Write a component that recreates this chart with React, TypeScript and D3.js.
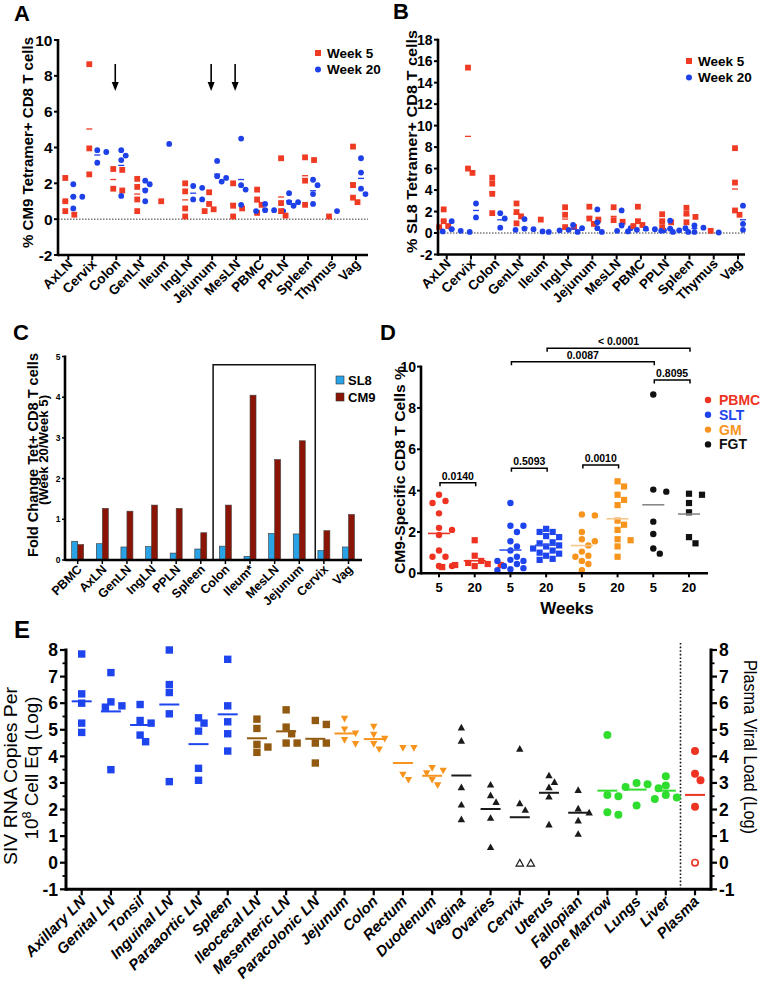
import React from 'react';
import * as d3 from 'd3';

const FONT = "'Liberation Sans', Arial, Helvetica, sans-serif";
const RED = '#EF3B24';
const BLUE = '#1E40E8';

// ---------------- Panels A & B ----------------
const tissuesAB = ['AxLN', 'Cervix', 'Colon', 'GenLN', 'Ileum', 'IngLN', 'Jejunum', 'MesLN', 'PBMC', 'PPLN', 'Spleen', 'Thymus', 'Vag'];
const cm9Week5 = [
  [2.3, 1.0, 0.45, 0.25],
  [8.65, 3.95, 2.5],
  [2.8, 2.75, 1.7, 1.6],
  [2.25, 1.8, 1.1, 0.45],
  [1.0],
  [2.0, 1.55, 0.6, 0.15],
  [1.5, 0.85, 0.55, 0.45],
  [2.0, 0.75, 0.6, 0.15],
  [1.65, 1.1, 0.8, 0.35],
  [3.4, 0.9, 0.45, 0.2],
  [3.45, 3.3, 2.15, 0.8],
  [0.15],
  [4.05, 1.9, 1.2, 0.95],
];
const cm9Week20 = [
  [1.95, 1.25, 1.25, 0.6],
  [3.85, 3.75, 3.15],
  [3.85, 3.55, 3.3, 1.3],
  [2.15, 1.95, 1.6, 1.0],
  [4.2],
  [1.85, 1.75, 1.1, 1.1],
  [3.25, 2.4, 2.3, 2.1],
  [4.5, 1.9, 1.65, 0.8],
  [0.85, 0.5, 0.45, 0.45, 0.5],
  [1.45, 0.95, 0.95, 0.75],
  [2.2, 1.9, 1.4, 0.85],
  [0.45],
  [3.4, 2.6, 1.7, 1.4],
];
const sl8Week5 = [
  [2.2, 1.1, 0.65, 0.55],
  [15.4, 6.0, 5.6],
  [5.15, 4.6, 3.65, 1.85],
  [2.75, 1.95, 1.55, 0.9],
  [1.25],
  [2.4, 1.7, 0.55, 0.55],
  [2.45, 1.35, 1.25, 0.85],
  [2.4, 1.2, 1.05],
  [2.45, 1.1, 0.75, 0.65],
  [1.75, 1.1, 1.0, 0.55],
  [2.35, 1.8, 1.5, 1.0],
  [0.2],
  [7.9, 4.7, 2.1, 1.7],
];
const sl8Week20 = [
  [1.1, 0.35, 0.2, 0.15, 0.1],
  [2.75, 1.45],
  [1.85, 1.35, 0.5],
  [1.3, 0.4, 0.35, 0.3, 0.15],
  [0.1],
  [0.75, 0.45, 0.3, 0.25, 0.1],
  [2.2, 1.0, 0.45, 0.1],
  [2.1, 0.7, 0.45, 0.2],
  [0.4, 0.35, 0.3, 0.25, 0.15, 0.1],
  [1.15, 0.4, 0.25, 0.2, 0.1],
  [0.7, 0.5, 0.45, 0.1],
  [0.05],
  [2.55, 0.85, 0.3],
];
const arrowTissues = ['Colon', 'Jejunum', 'MesLN'];
const yTicksA = [-2, 0, 2, 4, 6, 8, 10];
const yTicksB = [-2, 0, 2, 4, 6, 8, 10, 12, 14, 16, 18];
const legendAB = ['Week 5', 'Week 20'];

// ---------------- Panel C ----------------
const tissuesC = ['PBMC', 'AxLN', 'GenLN', 'IngLN', 'PPLN', 'Spleen', 'Colon', 'Ileum*', 'MesLN', 'Jejunum', 'Cervix', 'Vag'];
const foldSL8 = [0.46, 0.4, 0.32, 0.33, 0.17, 0.27, 0.34, 0.09, 0.65, 0.64, 0.23, 0.32];
const foldCM9 = [0.38, 1.27, 1.2, 1.35, 1.27, 0.67, 1.35, 4.05, 2.47, 2.93, 0.72, 1.12];
const boxFrom = 'Colon';
const boxTo = 'Jejunum';
const boxTopValue = 4.8;
const yTicksC = [0, 1, 2, 3, 4, 5];
const legendC = ['SL8', 'CM9'];

// ---------------- Panel D ----------------
const groupsD = ['PBMC', 'SLT', 'GM', 'FGT'];
const weeksD = ['5', '20', '5', '20', '5', '20', '5', '20'];
const groupOfD = [0, 0, 1, 1, 2, 2, 3, 3];
const valuesD = [
  [3.8, 3.5, 3.4, 2.9, 2.2, 2.1, 1.85, 1.1, 0.8, 0.8, 0.35, 0.35],
  [1.6, 0.85, 0.6, 0.5, 0.45, 0.4, 0.4, 0.35, 0.3],
  [3.4, 2.3, 2.3, 2.0, 1.55, 1.3, 1.1, 0.8, 0.65, 0.6, 0.6, 0.45, 0.35, 0.25, 0.2, 0.15],
  [2.15, 2.0, 2.0, 1.8, 1.75, 1.5, 1.45, 1.35, 1.3, 1.2, 1.1, 1.0, 0.95, 0.85, 0.7, 0.65],
  [2.85, 2.8, 2.0, 1.65, 1.55, 1.35, 1.05, 0.85, 0.8, 0.6, 0.45, 0.15],
  [4.45, 4.2, 3.8, 3.55, 3.3, 2.55, 2.35, 2.1, 1.65, 1.6, 1.3, 0.8],
  [8.65, 4.05, 3.95, 2.5, 1.9, 1.2, 0.95],
  [3.85, 3.8, 3.4, 2.95, 1.75, 1.45],
];
const compFrom = [0, 2, 4, 6, 2, 3];
const compTo = [1, 3, 5, 7, 6, 7];
const compLevel = [4.38, 5.08, 5.24, 9.35, 10.24, 10.89];
const compLabel = ['0.0140', '0.5093', '0.0010', '0.8095', '0.0087', '< 0.0001'];
const yTicksD = [0, 2, 4, 6, 8, 10];

// ---------------- Panel E ----------------
const tissuesE = ['Axillary LN', 'Genital LN', 'Tonsil', 'Inguinal LN', 'Paraaortic LN', 'Spleen', 'Ileocecal LN', 'Mesenteric LN', 'Paracolonic LN', 'Jejunum', 'Colon', 'Rectum', 'Duodenum', 'Vagina', 'Ovaries', 'Cervix', 'Uterus', 'Fallopian', 'Bone Marrow', 'Lungs', 'Liver', 'Plasma'];
const classE = ['LN', 'LN', 'LN', 'LN', 'LN', 'LN', 'GALN', 'GALN', 'GALN', 'GUT', 'GUT', 'GUT', 'GUT', 'FGT', 'FGT', 'FGT', 'FGT', 'FGT', 'OTH', 'OTH', 'OTH', 'PL'];
const valuesE = [
  [7.85, 6.35, 6.0, 5.25, 4.9],
  [7.15, 6.05, 5.9, 5.85, 3.5],
  [5.95, 5.35, 5.25, 4.8, 4.55],
  [8.0, 6.7, 6.4, 5.6, 3.05],
  [5.45, 5.25, 4.95, 3.55, 3.1],
  [7.65, 5.9, 5.3, 4.85, 4.2],
  [5.4, 5.05, 4.45, 4.35, 4.15],
  [5.75, 5.1, 4.85, 4.5, 4.5],
  [5.35, 5.2, 4.5, 4.5, 3.75],
  [5.4, 5.0, 4.85, 4.6, 4.45],
  [5.1, 4.8, 4.65, 4.45, 4.25],
  [4.3, 4.3, 3.3, 3.1],
  [3.55, 3.45, 3.35, 3.1, 2.9],
  [5.1, 4.6, 2.85, 2.2, 1.65],
  [2.95, 2.55, 2.3, 1.7, 0.6],
  [4.3, 2.25, 2.0],
  [3.3, 3.05, 2.85, 2.5, 1.45],
  [2.75, 2.05, 1.9, 1.6, 1.1],
  [4.8, 2.55, 2.5, 1.9, 1.8],
  [3.0, 2.95, 2.85, 2.8, 2.15],
  [3.25, 2.9, 2.55, 2.45, 2.4],
  [4.2, 3.35, 3.1, 2.1],
];
// animals below detection, plotted as open symbols at 0
const undetectedE = [0, 0, 0, 0, 0, 0, 0, 0, 0, 0, 0, 0, 0, 0, 0, 2, 0, 0, 0, 0, 0, 1];
const yTicksE = [-1, 0, 1, 2, 3, 4, 5, 6, 7, 8];

const CLASS_COLOR: Record<string, string> = {
  LN: '#1E44EE', GALN: '#925A10', GUT: '#F7941D', FGT: '#1A1A1A', OTH: '#2EDD2E', PL: '#EE3322',
};
const CLASS_SHAPE: Record<string, string> = {
  LN: 'square', GALN: 'square', GUT: 'down', FGT: 'up', OTH: 'circle', PL: 'circle',
};

// ---------------- helpers ----------------
function swarm(vals: number[], ys: (v: number) => number, cx: number, r: number, step: number, maxK = 14): number[] {
  const idx = vals.map((_, i) => i).sort((a, b) => vals[b] - vals[a]);
  const placed: [number, number][] = [];
  const xs = new Array(vals.length).fill(cx);
  for (const i of idx) {
    const py = ys(vals[i]);
    let px = cx;
    for (let k = 0; k < maxK; k++) {
      const off = k === 0 ? 0 : (k % 2 === 1 ? 1 : -1) * Math.ceil(k / 2) * step;
      const cand = cx + off;
      if (placed.every(([qx, qy]) => Math.hypot(qx - cand, qy - py) >= 2 * r)) { px = cand; break; }
    }
    placed.push([px, py]);
    xs[i] = px;
  }
  return xs;
}

function VText({ x, y, len, size, weight, children, rot = -90 }: { x: number; y: number; len: number; size: number; weight?: string; children: React.ReactNode; rot?: number }) {
  return (
    <text transform={`translate(${x},${y}) rotate(${rot})`} textAnchor="middle" fontSize={size} fontWeight={weight || 'normal'}
      textLength={len} lengthAdjust="spacingAndGlyphs">{children}</text>
  );
}

function Marker({ shape, x, y, s, fill, hollow }: { shape: string; x: number; y: number; s: number; fill: string; hollow?: boolean }) {
  const f = hollow ? '#fff' : fill;
  const st = hollow ? fill : 'none';
  if (shape === 'square') return <rect x={x - s / 2} y={y - s / 2} width={s} height={s} fill={f} stroke={st} />;
  if (shape === 'circle') return <circle cx={x} cy={y} r={s / 2 - (hollow ? 0.8 : 0)} fill={f} stroke={st} strokeWidth={hollow ? 1.6 : 0} />;
  const h = s * 0.9;
  if (shape === 'up') {
    return <path d={`M${x},${y - h / 2}L${x + s / 2},${y + h / 2}L${x - s / 2},${y + h / 2}Z`} fill={f} stroke={st} strokeWidth={hollow ? 1.2 : 0} />;
  }
  return <path d={`M${x},${y + h / 2}L${x + s / 2},${y - h / 2}L${x - s / 2},${y - h / 2}Z`} fill={f} stroke={st} strokeWidth={hollow ? 1.2 : 0} />;
}

// ---------------- Panel A/B component ----------------
function ScatterAB(props: {
  letter: string; letterX: number; letterY: number; title: string; titleX: number; titleY: number; titleLen: number; titleSize: number;
  w5: number[][]; w20: number[][]; yDomain: [number, number]; yRange: [number, number]; yTicks: number[]; tickSize: number;
  xRange: [number, number]; axisX0: number; axisX1: number; legX: number; legY: number; arrows?: string[];
}) {
  const y = d3.scaleLinear().domain(props.yDomain).range(props.yRange);
  const x = d3.scalePoint<string>().domain(tissuesAB).range(props.xRange);
  const yb = y(props.yDomain[0]);
  const yt = y(props.yDomain[1]);
  const els: React.ReactNode[] = [];
  tissuesAB.forEach((t, i) => {
    const cx = x(t)!;
    const r5 = props.w5[i];
    const r20 = props.w20[i];
    const xs5 = swarm(r5, y, cx - 3, 2.9, 4.5);
    const xs20 = swarm(r20, y, cx + 5, 2.8, 4.5);
    r5.forEach((v, j) => els.push(<rect key={`r${i}-${j}`} x={xs5[j] - 2.9} y={y(v) - 2.9} width={5.8} height={5.8} fill={RED} />));
    r20.forEach((v, j) => els.push(<circle key={`b${i}-${j}`} cx={xs20[j]} cy={y(v)} r={2.9} fill={BLUE} />));
    if (r5.length > 1) {
      const m = d3.mean(r5)!;
      els.push(<line key={`m5${i}`} x1={cx - 6} x2={cx} y1={y(m)} y2={y(m)} stroke={RED} strokeWidth={1.3} />);
    }
    if (r20.length > 1) {
      const m = d3.mean(r20)!;
      els.push(<line key={`m20${i}`} x1={cx + 2} x2={cx + 8} y1={y(m)} y2={y(m)} stroke={BLUE} strokeWidth={1.3} />);
    }
  });
  return (
    <g>
      <text x={props.letterX} y={props.letterY} fontSize={22} fontWeight="bold">{props.letter}</text>
      <VText x={props.titleX} y={props.titleY} len={props.titleLen} size={props.titleSize} weight="bold">{props.title}</VText>
      <line x1={props.axisX0} x2={props.axisX1} y1={y(0)} y2={y(0)} stroke="#333" strokeWidth={1} strokeDasharray="1.5,1.5" />
      {els}
      <line x1={props.axisX0} x2={props.axisX0} y1={yt - 1} y2={yb + 1.2} stroke="#000" strokeWidth={2.6} />
      <line x1={props.axisX0} x2={props.axisX1} y1={yb} y2={yb} stroke="#000" strokeWidth={2.6} />
      {props.yTicks.map(t => (
        <g key={t}>
          <line x1={props.axisX0 - 4} x2={props.axisX0} y1={y(t)} y2={y(t)} stroke="#000" strokeWidth={2} />
          <text x={props.axisX0 - 5.5} y={y(t)} dy="0.36em" textAnchor="end" fontSize={props.tickSize} fontWeight="bold">{t}</text>
        </g>
      ))}
      {tissuesAB.map(t => (
        <g key={t}>
          <line x1={x(t)!} x2={x(t)!} y1={yb} y2={yb + 5} stroke="#000" strokeWidth={2} />
          <text transform={`translate(${x(t)! + 5},${yb + 10}) rotate(-45)`} textAnchor="end" fontSize={13.5} fontWeight="bold">{t}</text>
        </g>
      ))}
      {(props.arrows || []).map(t => {
        const ax = x(t)! - 1;
        return (
          <g key={t}>
            <line x1={ax} x2={ax} y1={64} y2={84} stroke="#000" strokeWidth={1.6} />
            <path d={`M${ax - 3.5},${82}L${ax + 3.5},${82}L${ax},${91}Z`} fill="#000" />
          </g>
        );
      })}
      <rect x={props.legX - 3} y={props.legY - 3} width={6} height={6} fill={RED} />
      <text x={props.legX + 9} y={props.legY} dy="0.36em" fontSize={13.5} fontWeight="bold">{legendAB[0]}</text>
      <circle cx={props.legX} cy={props.legY + 16.5} r={3} fill={BLUE} />
      <text x={props.legX + 9} y={props.legY + 16.5} dy="0.36em" fontSize={13.5} fontWeight="bold">{legendAB[1]}</text>
    </g>
  );
}

// ---------------- Panel C ----------------
function PanelC() {
  const y = d3.scaleLinear().domain([0, 5]).range([560, 356.5]);
  const x = d3.scalePoint<string>().domain(tissuesC).range([77.7, 348.5]);
  const step = x.step();
  const bw = 6;
  const bx0 = x(boxFrom)! - step / 2;
  const bx1 = x(boxTo)! + step * 0.65;
  return (
    <g>
      <text x={13} y={340} fontSize={22} fontWeight="bold">C</text>
      <VText x={37.5} y={455} len={204} size={14} weight="bold">Fold Change Tet+ CD8 T cells</VText>
      <VText x={47.5} y={450} len={110} size={12} weight="bold">(Week 20/Week 5)</VText>
      {tissuesC.map((t, i) => (
        <g key={t}>
          <rect x={x(t)! - bw} y={y(foldSL8[i])} width={bw} height={y(0) - y(foldSL8[i])} fill="#2AA2E6" stroke="#333" strokeWidth={0.6} />
          <rect x={x(t)!} y={y(foldCM9[i])} width={bw} height={y(0) - y(foldCM9[i])} fill="#8A1405" stroke="#444" strokeWidth={0.6} />
        </g>
      ))}
      <path d={`M${bx0},${y(0)}V${y(boxTopValue)}H${bx1}V${y(0)}`} fill="none" stroke="#111" strokeWidth={1.5} />
      <line x1={65} x2={65} y1={y(5) - 1} y2={y(0) + 1} stroke="#000" strokeWidth={2.6} />
      <line x1={65} x2={362} y1={y(0)} y2={y(0)} stroke="#000" strokeWidth={2.6} />
      {yTicksC.map(t => (
        <g key={t}>
          <line x1={62} x2={65} y1={y(t)} y2={y(t)} stroke="#000" strokeWidth={1.5} />
          <text x={60.5} y={y(t)} dy="0.36em" textAnchor="end" fontSize={8.5} fontWeight="bold">{t}</text>
        </g>
      ))}
      {tissuesC.map(t => (
        <g key={t}>
          <line x1={x(t)!} x2={x(t)!} y1={y(0)} y2={y(0) + 4} stroke="#000" strokeWidth={1.5} />
          <text transform={`translate(${x(t)! + 5},${y(0) + 10}) rotate(-45)`} textAnchor="end" fontSize={12.5} fontWeight="bold">{t}</text>
        </g>
      ))}
      <rect x={336} y={376} width={8} height={8} fill="#2AA2E6" stroke="#333" strokeWidth={0.6} />
      <text x={348} y={380} dy="0.36em" fontSize={13} fontWeight="bold">{legendC[0]}</text>
      <rect x={336} y={393} width={8} height={8} fill="#8A1405" stroke="#333" strokeWidth={0.6} />
      <text x={348} y={397} dy="0.36em" fontSize={13} fontWeight="bold">{legendC[1]}</text>
    </g>
  );
}

// ---------------- Panel D ----------------
const D_COLORS = ['#EE3322', '#1E44EE', '#F7941D', '#111'];
const D_MEAN_COLORS = ['#EE3322', '#3355EE', '#F8C68A', '#888'];
function PanelD() {
  const y = d3.scaleLinear().domain([0, 10]).range([573.3, 366.6]);
  const x = d3.scalePoint<number>().domain(d3.range(8)).range([439, 689]);
  const els: React.ReactNode[] = [];
  valuesD.forEach((vals, gi) => {
    const cx = x(gi)!;
    const col = D_COLORS[groupOfD[gi]];
    const isSq = gi % 2 === 1;
    const xs = swarm(vals, y, cx, 3.6, 6.5);
    vals.forEach((v, j) => {
      els.push(isSq
        ? <rect key={`${gi}-${j}`} x={xs[j] - 3.1} y={y(v) - 3.1} width={6.2} height={6.2} fill={col} />
        : <circle key={`${gi}-${j}`} cx={xs[j]} cy={y(v)} r={3.2} fill={col} />);
    });
    const m = d3.mean(vals)!;
    els.push(<line key={`m${gi}`} x1={cx - 11} x2={cx + 11} y1={y(m)} y2={y(m)} stroke={D_MEAN_COLORS[groupOfD[gi]]} strokeWidth={1.6} />);
  });
  return (
    <g>
      <text x={380} y={340} fontSize={22} fontWeight="bold">D</text>
      <VText x={404.5} y={470} len={208} size={15} weight="bold">CM9-Specific CD8 T Cells %</VText>
      {els}
      <line x1={421} x2={421} y1={y(10) - 1} y2={y(0) + 1.2} stroke="#000" strokeWidth={2.6} />
      <line x1={421} x2={708} y1={y(0)} y2={y(0)} stroke="#000" strokeWidth={2.6} />
      {yTicksD.map(t => (
        <g key={t}>
          <line x1={417} x2={421} y1={y(t)} y2={y(t)} stroke="#000" strokeWidth={2} />
          <text x={416} y={y(t)} dy="0.36em" textAnchor="end" fontSize={14} fontWeight="bold">{t}</text>
        </g>
      ))}
      {weeksD.map((w, i) => (
        <g key={i}>
          <line x1={x(i)!} x2={x(i)!} y1={y(0)} y2={y(0) + 4} stroke="#000" strokeWidth={2} />
          <text x={x(i)!} y={591.5} textAnchor="middle" fontSize={13} fontWeight="bold">{w}</text>
        </g>
      ))}
      <text x={567} y={613.5} textAnchor="middle" fontSize={17} fontWeight="bold">Weeks</text>
      {compLabel.map((lab, i) => {
        const x1 = x(compFrom[i])! + 1;
        const x2 = x(compTo[i])! + 1;
        const yy = y(compLevel[i]);
        return (
          <g key={lab}>
            <path d={`M${x1},${yy + 3.5}V${yy}H${x2}V${yy + 3.5}`} fill="none" stroke="#000" strokeWidth={1.5} />
            <text x={(x1 + x2) / 2} y={yy - 3} textAnchor="middle" fontSize={10.5} fontWeight="bold">{lab}</text>
          </g>
        );
      })}
      {groupsD.map((g, i) => (
        <g key={g}>
          <circle cx={708} cy={400 + i * 14.8} r={3.2} fill={D_COLORS[i]} />
          <text x={719} y={400 + i * 14.8} dy="0.36em" fontSize={14} fontWeight="bold" fill={D_COLORS[i]}>{g}</text>
        </g>
      ))}
    </g>
  );
}

// ---------------- Panel E ----------------
function PanelE() {
  const y = d3.scaleLinear().domain([-1, 8]).range([889.3, 650]);
  const x = d3.scalePoint<string>().domain(tissuesE).range([81.7, 695]);
  const els: React.ReactNode[] = [];
  tissuesE.forEach((t, i) => {
    const cls = classE[i];
    const col = CLASS_COLOR[cls];
    const shp = CLASS_SHAPE[cls];
    const cx = x(t)!;
    const nUnd = undetectedE[i];
    const all = valuesE[i].concat(d3.range(nUnd).map(() => 0));
    const xs = swarm(all, y, cx, 3.8, 5.5);
    all.forEach((v, j) => {
      const hollow = j >= valuesE[i].length;
      els.push(<Marker key={`${i}-${j}`} shape={shp} x={xs[j]} y={y(v)} s={shp === 'circle' ? 8 : 7.4} fill={col} hollow={hollow} />);
    });
    const m = d3.mean(all)!;
    els.push(<line key={`m${i}`} x1={cx - 10} x2={cx + 10} y1={y(m)} y2={y(m)} stroke={col} strokeWidth={2} />);
  });
  const minor = d3.range(-1, 8, 0.5).filter(v => v % 1 !== 0);
  return (
    <g>
      <text x={14} y={638} fontSize={24} fontWeight="bold">E</text>
      <VText x={16.5} y={776} len={178} size={18}>SIV RNA Copies Per</VText>
      <text transform={`translate(38,768) rotate(-90)`} textAnchor="middle" fontSize={18} textLength={143} lengthAdjust="spacingAndGlyphs">10<tspan dy={-7} fontSize={12}>8</tspan><tspan dy={7}> Cell Eq (Log)</tspan></text>
      <VText x={744} y={747} len={174} size={18} rot={90}>Plasma Viral Load (Log)</VText>
      <line x1={680.5} x2={680.5} y1={643} y2={889} stroke="#111" strokeWidth={1.6} strokeDasharray="1.6,2" />
      {els}
      <line x1={66} x2={66} y1={y(8) - 1.5} y2={y(-1) + 1.5} stroke="#000" strokeWidth={3} />
      <line x1={711} x2={711} y1={y(8) - 1.5} y2={y(-1) + 1.5} stroke="#000" strokeWidth={3} />
      <line x1={66} x2={711} y1={y(-1)} y2={y(-1)} stroke="#000" strokeWidth={3} />
      {yTicksE.map(t => (
        <g key={t}>
          <line x1={60} x2={66} y1={y(t)} y2={y(t)} stroke="#000" strokeWidth={2.2} />
          <text x={58} y={y(t)} dy="0.36em" textAnchor="end" fontSize={17.5} fontWeight="bold">{t}</text>
          <line x1={711} x2={717} y1={y(t)} y2={y(t)} stroke="#000" strokeWidth={2.2} />
          <text x={719} y={y(t)} dy="0.36em" textAnchor="start" fontSize={17.5} fontWeight="bold">{t}</text>
        </g>
      ))}
      {minor.map(t => (
        <g key={`mn${t}`}>
          <line x1={62.5} x2={66} y1={y(t)} y2={y(t)} stroke="#000" strokeWidth={1.8} />
          <line x1={711} x2={714.5} y1={y(t)} y2={y(t)} stroke="#000" strokeWidth={1.8} />
        </g>
      ))}
      {tissuesE.map(t => (
        <g key={t}>
          <line x1={x(t)!} x2={x(t)!} y1={y(-1)} y2={y(-1) + 6} stroke="#000" strokeWidth={2.2} />
          <text transform={`translate(${x(t)! + 5},${y(-1) + 13}) rotate(-45)`} textAnchor="end" fontSize={15} fontWeight="bold" fontStyle="italic">{t}</text>
        </g>
      ))}
    </g>
  );
}

export default function App() {
  return (
    <svg width={761} height={988} style={{ position: 'absolute', left: 0, top: 0, background: '#fff' }} fontFamily={FONT}>
      <rect width={761} height={988} fill="#fff" />
      <ScatterAB letter="A" letterX={14} letterY={21} title="% CM9 Tetramer+ CD8 T cells" titleX={32.5} titleY={142.5} titleLen={211} titleSize={15}
        w5={cm9Week5} w20={cm9Week20} yDomain={[-2, 10]} yRange={[255, 40]} yTicks={yTicksA} tickSize={15.5}
        xRange={[68.3, 356]} axisX0={58} axisX1={368} legX={318} legY={53} arrows={arrowTissues} />
      <ScatterAB letter="B" letterX={393} letterY={19} title="% SL8 Tetramer+ CD8 T cells" titleX={416.5} titleY={141.5} titleLen={223} titleSize={15.5}
        w5={sl8Week5} w20={sl8Week20} yDomain={[-2, 18]} yRange={[254.5, 39.7]} yTicks={yTicksB} tickSize={14}
        xRange={[446.7, 738]} axisX0={438} axisX1={745} legX={689} legY={61} />
      <PanelC />
      <PanelD />
      <PanelE />
    </svg>
  );
}
